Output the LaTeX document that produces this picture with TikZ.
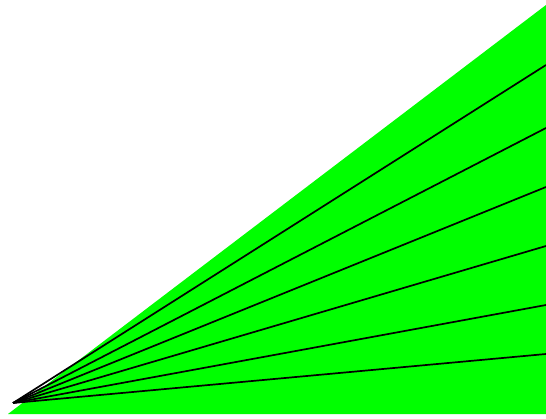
\documentclass[tikz,border=0pt]{standalone}
\begin{document}
\begin{tikzpicture}[x=1pt,y=-1pt,
  ray/.style={draw=black,line width=1.7pt}]
\useasboundingbox (0,0) rectangle (546,419);
\definecolor{brightgreen}{RGB}{0,255,0}
\fill[brightgreen] (8,414) -- (546,5) -- (546,414) -- cycle;
\coordinate (o) at (13,403);
\coordinate (e1) at (546,65);
\coordinate (e2) at (546,128);
\coordinate (e3) at (546,187);
\coordinate (e4) at (546,246);
\coordinate (e5) at (546,305);
\coordinate (e6) at (546,354);
\foreach \i in {1,...,6} \draw[ray] (o) -- (e\i);
\end{tikzpicture}
\end{document}
